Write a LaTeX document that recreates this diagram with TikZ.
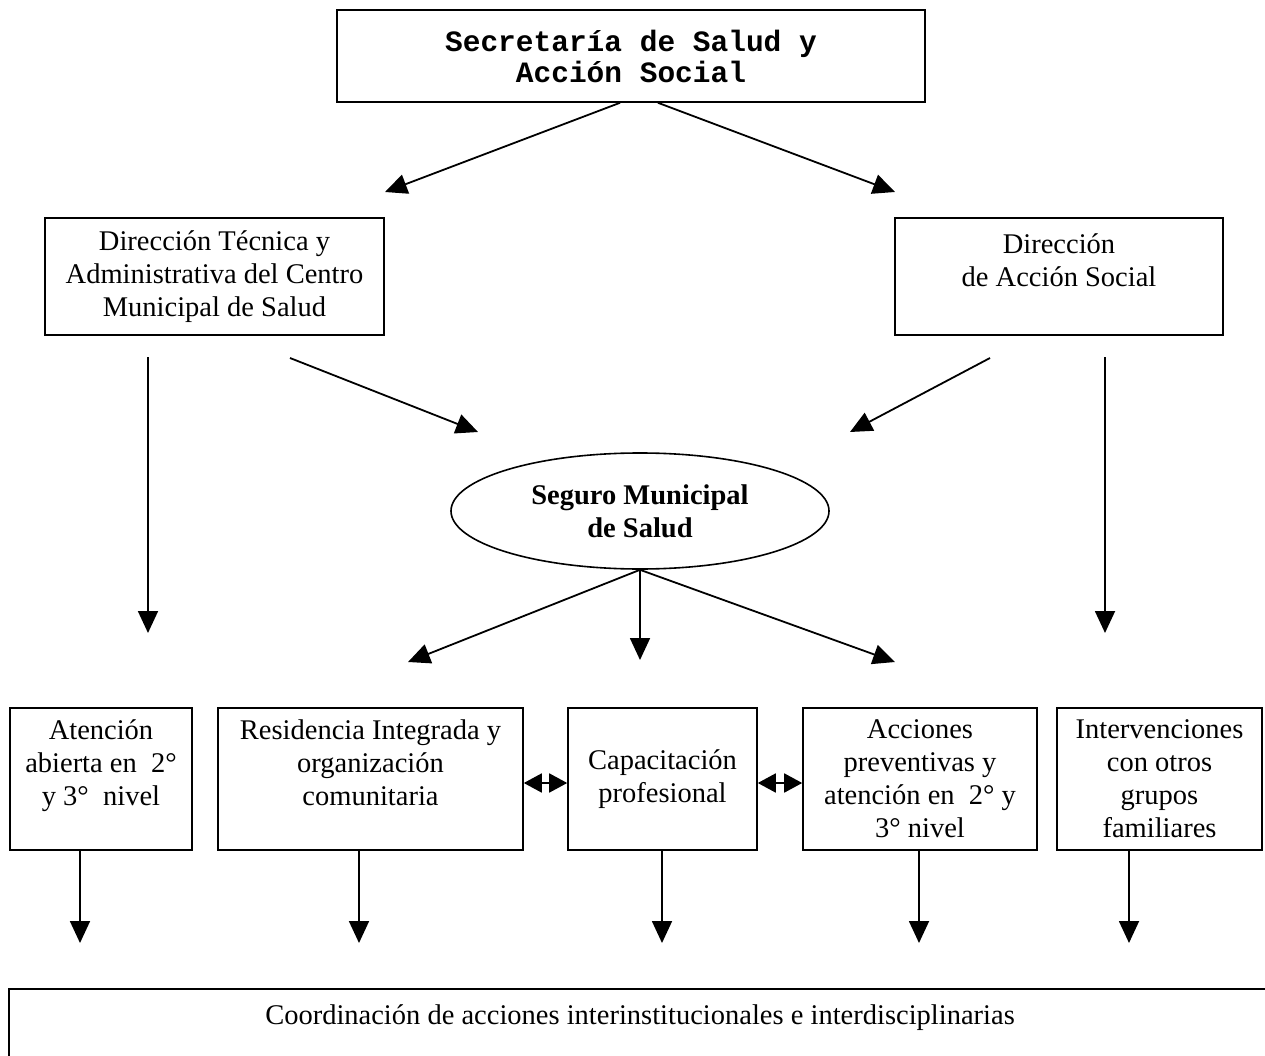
\documentclass[tikz,border=0pt]{standalone}
\usepackage{fontspec}
\setmainfont{Liberation Serif}
\setmonofont{Liberation Mono}
\usetikzlibrary{arrows.meta,shapes.geometric}
\begin{document}
\begin{tikzpicture}[x=1pt,y=-1pt,
    every node/.style={font=\fontsize{28.5}{33}\selectfont},
    box/.style={draw,line width=1.6pt,rectangle,inner sep=0pt,align=center},
    arr/.style={line width=1.8pt,-{Triangle[length=22pt,width=20pt]}},
    dbl/.style={line width=1.8pt,{Triangle[length=18pt,width=19pt]}-{Triangle[length=18pt,width=19pt]}}]
  \clip (0,0) rectangle (1265,1056);
  % top
  \node[box,minimum width=588pt,minimum height=92pt,font=\fontsize{29.5}{31}\selectfont\ttfamily\bfseries] (secre) at (631,56) {Secretaría de Salud y\\Acción Social};
  \node[box,minimum width=339pt,minimum height=117pt] (dirtec) at (214.5,276.5) {Dirección Técnica y\\Administrativa del Centro\\Municipal de Salud};
  \node[box,minimum width=328pt,minimum height=117pt] (diracc) at (1059,276.5) {Dirección\\de Acción Social\\\mbox{}};
  \node[draw,ellipse,line width=1.6pt,inner sep=0pt,minimum width=378pt,minimum height=116pt,align=center,font=\fontsize{28.5}{33}\selectfont\bfseries] (seguro) at (640,511) {Seguro Municipal\\de Salud};
  % second row
  \node[box,minimum width=182pt,minimum height=142pt] (atenc) at (101,779) {Atención\\abierta en~~2°\\y 3°~ nivel\\\mbox{}};
  \node[box,minimum width=305pt,minimum height=142pt] (resid) at (370.5,779) {Residencia Integrada y\\organización\\comunitaria\\\mbox{}};
  \node[box,minimum width=189pt,minimum height=142pt] (capac) at (662.5,779) {Capacitación\\profesional};
  \node[box,minimum width=234pt,minimum height=142pt] (accio) at (920,779) {Acciones\\preventivas y\\atención en~~2° y\\3° nivel};
  \node[box,minimum width=205pt,minimum height=142pt] (inter) at (1159.5,779) {Intervenciones\\con otros\\grupos\\familiares};
  \node[box,minimum width=1280pt,minimum height=140pt,anchor=north west] (coord) at (8,988) {};
  \node (coordtxt) at (640,1018) {Coordinación de acciones interinstitucionales e interdisciplinarias};
  % free ends
  \coordinate (s1) at (385,192);
  \coordinate (s2) at (895,192);
  \coordinate (t1) at (148,357);
  \coordinate (t2) at (148,633);
  \coordinate (t3) at (290,358);
  \coordinate (t4) at (478,432);
  \coordinate (a1) at (990,358);
  \coordinate (a2) at (850,432);
  \coordinate (a3) at (1105,357);
  \coordinate (a4) at (1105,633);
  \coordinate (m1) at (408,662);
  \coordinate (m2) at (640,660);
  \coordinate (m3) at (895,662);
  \coordinate (b1) at (80,943);
  \coordinate (b2) at (359,943);
  \coordinate (b3) at (662,943);
  \coordinate (b4) at (919,943);
  \coordinate (b5) at (1129,943);
  % arrows
  \draw[arr] ([xshift=-11pt]secre.south) -- (s1);
  \draw[arr] ([xshift=27pt]secre.south) -- (s2);
  \draw[arr] (t1) -- (t2);
  \draw[arr] (t3) -- (t4);
  \draw[arr] (a1) -- (a2);
  \draw[arr] (a3) -- (a4);
  \draw[arr] (seguro.south) -- (m1);
  \draw[arr] (seguro.south) -- (m2);
  \draw[arr] (seguro.south) -- (m3);
  \draw[dbl] ([yshift=-4pt]resid.east) -- ([yshift=-4pt]capac.west);
  \draw[dbl] ([yshift=-4pt]capac.east) -- ([yshift=-4pt]accio.west);
  \draw[arr] (atenc.south -| b1) -- (b1);
  \draw[arr] (resid.south -| b2) -- (b2);
  \draw[arr] (capac.south -| b3) -- (b3);
  \draw[arr] (accio.south -| b4) -- (b4);
  \draw[arr] (inter.south -| b5) -- (b5);
\end{tikzpicture}
\end{document}
